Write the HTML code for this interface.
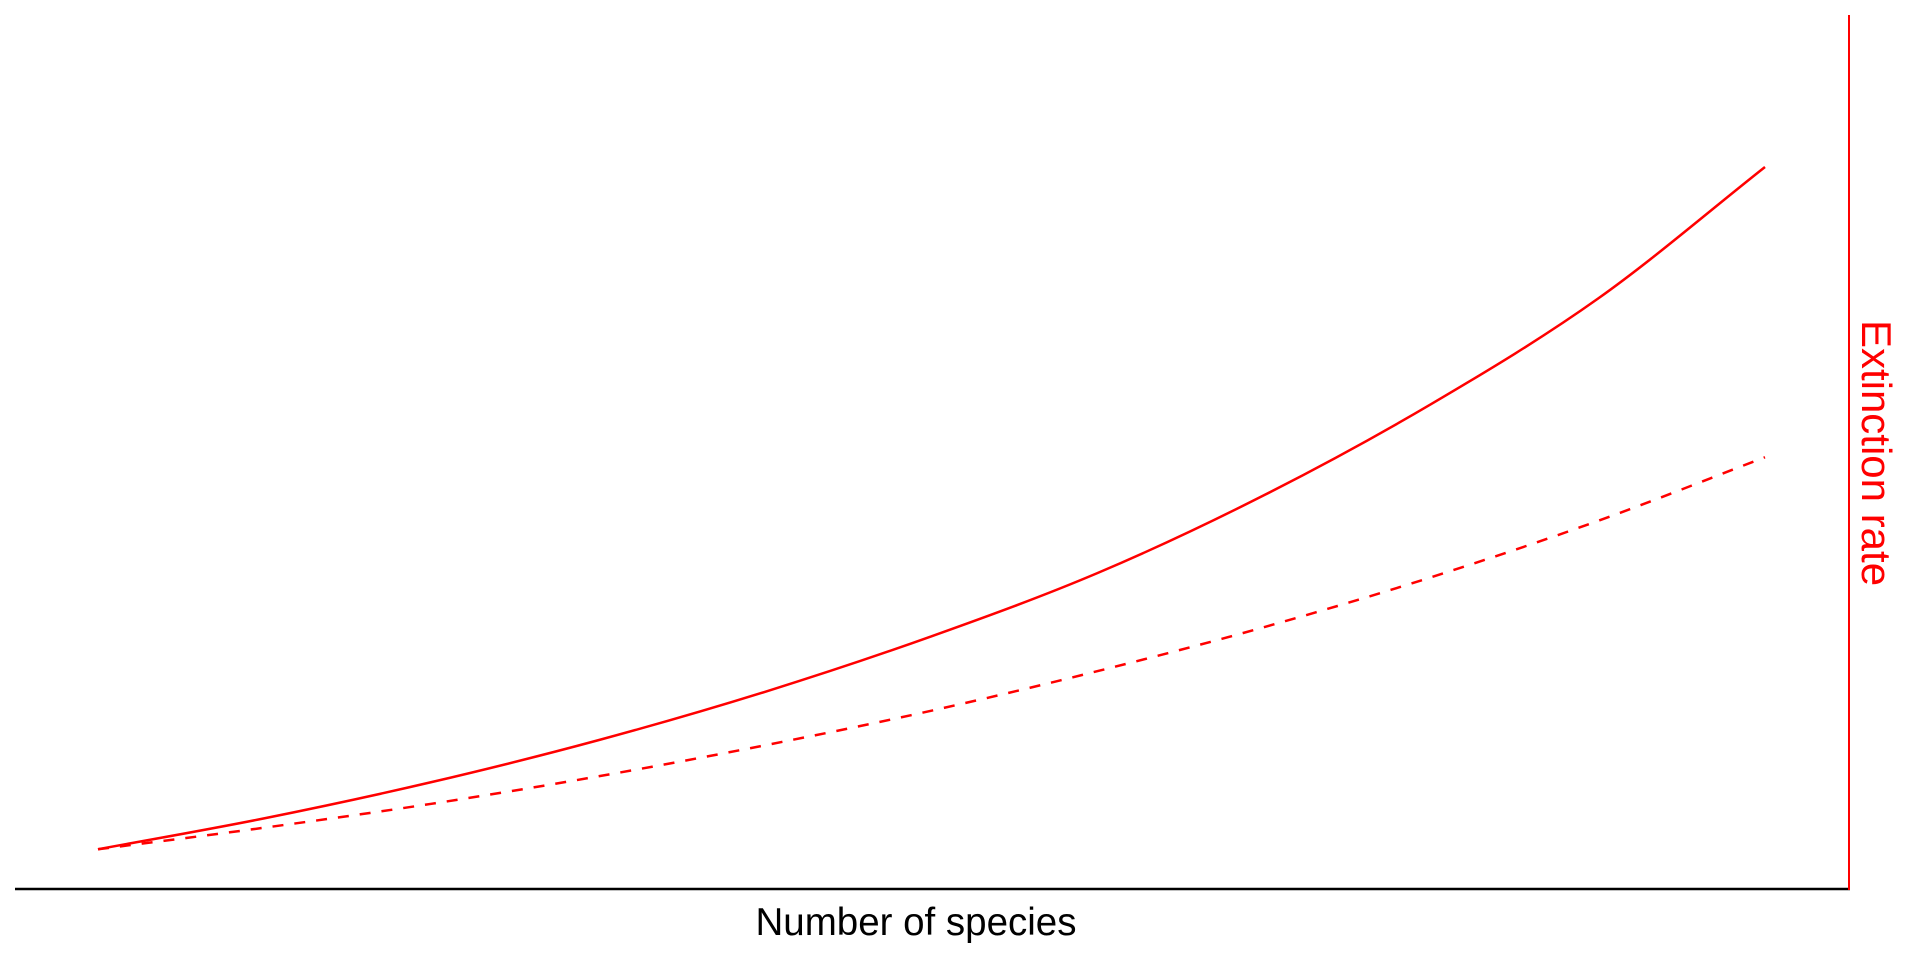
<!DOCTYPE html>
<html><head><meta charset="utf-8"><style>
html,body{margin:0;padding:0;background:#fff;}
svg{display:block;}
text{font-family:"Liberation Sans",sans-serif;}
</style></head><body>
<svg id="chart" width="1920" height="960">
  <line x1="15" y1="889" x2="1850" y2="889" stroke="#000" stroke-width="2.5"/>
  <line x1="1849" y1="15" x2="1849" y2="890" stroke="#f00" stroke-width="2"/>
  <text x="916" y="935" font-size="38.5" text-anchor="middle" fill="#000">Number of species</text>
  <text transform="translate(1862,453) rotate(90)" font-size="42" text-anchor="middle" fill="#f00">Extinction rate</text>
  <g id="series"></g>
</svg>
<script>
const categories = [0, 10, 20, 30, 40, 50, 60, 70, 80, 90, 100];
const solidValues = [5.5, 9.8, 14.8, 20.6, 27.3, 35.0, 43.8, 54.6, 67.2, 81.8, 100];
const dashedValues = [5.5, 8.5, 11.8, 15.6, 19.9, 24.7, 30.2, 36.3, 43.2, 51.0, 59.8];

function xScale(v){ return 98 + v/100*(1765-98); }
function yScale(v){ return 889 - v/100*(889-167); }

function pathFor(xs, vals){
  const px = xs.map(xScale), py = vals.map(yScale);
  const n = px.length, d = [], m = new Array(n);
  for(let i=0;i<n-1;i++) d.push((py[i+1]-py[i])/(px[i+1]-px[i]));
  m[0]=d[0]; m[n-1]=d[n-2];
  for(let i=1;i<n-1;i++) m[i]=(d[i-1]+d[i])/2;
  let s='M'+px[0]+','+py[0];
  for(let i=0;i<n-1;i++){
    const h=(px[i+1]-px[i])/3;
    s+=' C'+(px[i]+h)+','+(py[i]+m[i]*h)+' '+(px[i+1]-h)+','+(py[i+1]-m[i+1]*h)+' '+px[i+1]+','+py[i+1];
  }
  return s;
}
const g = document.getElementById('series');
const ns = 'http://www.w3.org/2000/svg';
const s = document.createElementNS(ns,'path');
s.setAttribute('d', pathFor(categories, solidValues));
s.setAttribute('fill','none'); s.setAttribute('stroke','#f00'); s.setAttribute('stroke-width','2.5');


g.appendChild(s);
const dsh = document.createElementNS(ns,'path');
dsh.setAttribute('d', pathFor(categories, dashedValues));
dsh.setAttribute('fill','none'); dsh.setAttribute('stroke','#f00'); dsh.setAttribute('stroke-width','2.5');
dsh.setAttribute('stroke-dasharray','11 11');


g.appendChild(dsh);
</script>
</body></html>
